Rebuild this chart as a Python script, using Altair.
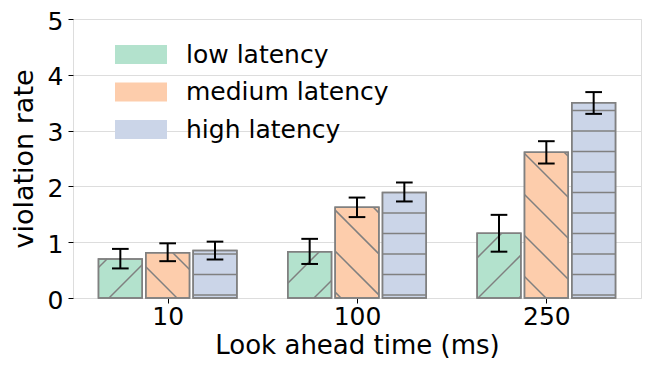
import altair as alt
import pandas as pd

# ---- data ----
groups = ["10", "100", "250"]
series = ["low latency", "medium latency", "high latency"]
colors = ["#b3e2cd", "#fdcdac", "#cbd5e8"]
values = {
    "low latency": [0.70, 0.83, 1.16],
    "medium latency": [0.81, 1.625, 2.61],
    "high latency": [0.85, 1.89, 3.50],
}
err_lo = {
    "low latency": [0.53, 0.61, 0.83],
    "medium latency": [0.66, 1.45, 2.41],
    "high latency": [0.69, 1.73, 3.30],
}
err_hi = {
    "low latency": [0.88, 1.06, 1.49],
    "medium latency": [0.98, 1.80, 2.81],
    "high latency": [1.01, 2.07, 3.69],
}

# ---- layout ----
W, H = 568, 279
XMIN, XMAX = -0.5, 2.5
YMIN, YMAX = 0, 5
kx = W / (XMAX - XMIN)
ky = H / (YMAX - YMIN)
offsets = [-0.25, 0.0, 0.25]
bw = 0.231
cap = 0.044
EDGE = "#808080"
FONT = "DejaVu Sans"

rows = []
for si, s in enumerate(series):
    for gi, g in enumerate(groups):
        c = gi + offsets[si]
        rows.append(dict(series=s, group=g, xc=c, x0=c - bw / 2, x1=c + bw / 2,
                         v=values[s][gi], lo=err_lo[s][gi], hi=err_hi[s][gi],
                         cl=c - cap, cr=c + cap))
df = pd.DataFrame(rows)

# hatch segments (pixel-space pattern, converted to data units)
def to_data(xp, yp):
    return xp / kx + XMIN, YMAX - yp / ky

segs = []
for r in rows:
    xl = (r["x0"] - XMIN) * kx
    xr = (r["x1"] - XMIN) * kx
    yt = (YMAX - r["v"]) * ky
    yb = H
    if r["series"] == "low latency":
        sp, ph = 41.0, 684.0
        k0 = int((xl + yt - ph) // sp) - 1
        k1 = int((xr + yb - ph) // sp) + 2
        for k in range(k0, k1):
            cc = ph + k * sp
            a = max(xl, cc - yb)
            b = min(xr, cc - yt)
            if b - a > 0.5:
                x1d, y1d = to_data(a, cc - a)
                x2d, y2d = to_data(b, cc - b)
                segs.append(dict(x=x1d, y=y1d, x2=x2d, y2=y2d))
    elif r["series"] == "medium latency":
        sp, ph = 41.0, -317.0
        k0 = int((yt - xr - ph) // sp) - 1
        k1 = int((yb - xl - ph) // sp) + 2
        for k in range(k0, k1):
            d = ph + k * sp
            a = max(xl, yt - d)
            b = min(xr, yb - d)
            if b - a > 0.5:
                x1d, y1d = to_data(a, a + d)
                x2d, y2d = to_data(b, b + d)
                segs.append(dict(x=x1d, y=y1d, x2=x2d, y2=y2d))
    else:
        sp, ph = 20.5, 276.0
        k = 0
        while True:
            yp = ph - k * sp
            if yp <= yt + 0.5:
                break
            x1d, y1d = to_data(xl, yp)
            x2d, _ = to_data(xr, yp)
            segs.append(dict(x=x1d, y=y1d, x2=x2d, y2=y1d))
            k += 1
hatch = pd.DataFrame(segs)

xscale = alt.Scale(domain=[XMIN, XMAX], nice=False, zero=False)
yscale = alt.Scale(domain=[YMIN, YMAX], nice=False)

xaxis = alt.Axis(values=[0, 1, 2], title="Look ahead time (ms)", grid=False,
                 labelExpr="datum.value == 0 ? '10' : datum.value == 1 ? '100' : '250'",
                 labelFontSize=25, titleFontSize=26, tickSize=5, labelPadding=1,
                 titlePadding=3, domain=False, tickColor="black", labelColor="black",
                 titleColor="black", labelFont=FONT, titleFont=FONT, titleFontWeight="normal")
yaxis = alt.Axis(values=[0, 1, 2, 3, 4, 5], format="d", title="violation rate", grid=True,
                 gridColor="#dddddd", gridWidth=1, labelFontSize=25, titleFontSize=27,
                 tickSize=5, labelPadding=5, titlePadding=9, domain=False, labelOffset=2,
                 tickColor="black", labelColor="black", titleColor="black",
                 labelFont=FONT, titleFont=FONT, titleFontWeight="normal")

base = alt.Chart(df)

bar_layers = []
for si, s in enumerate(series):
    enc = dict(x=alt.X("x0:Q", scale=xscale), x2="x1:Q",
               y=alt.Y("v:Q", scale=yscale), y2=alt.datum(0))
    if si == 0:
        enc["x"] = alt.X("x0:Q", scale=xscale, axis=xaxis)
        enc["y"] = alt.Y("v:Q", scale=yscale, axis=yaxis)
    bar_layers.append(
        base.transform_filter(alt.datum.series == s)
        .mark_bar(fill=colors[si], stroke=EDGE, strokeWidth=1.5)
        .encode(**enc)
    )

hatch_layer = alt.Chart(hatch).mark_rule(color=EDGE, strokeWidth=1.5).encode(
    x=alt.X("x:Q", scale=xscale), x2="x2:Q",
    y=alt.Y("y:Q", scale=yscale), y2="y2:Q",
)

outline = base.mark_bar(fillOpacity=0, stroke=EDGE, strokeWidth=1.5).encode(
    x=alt.X("x0:Q", scale=xscale), x2="x1:Q",
    y=alt.Y("v:Q", scale=yscale), y2=alt.datum(0),
)

ebar = base.mark_rule(color="black", strokeWidth=2).encode(
    x=alt.X("xc:Q", scale=xscale), y=alt.Y("lo:Q", scale=yscale), y2="hi:Q")
cap_lo = base.mark_rule(color="black", strokeWidth=2).encode(
    x=alt.X("cl:Q", scale=xscale), x2="cr:Q", y=alt.Y("lo:Q", scale=yscale))
cap_hi = base.mark_rule(color="black", strokeWidth=2).encode(
    x=alt.X("cl:Q", scale=xscale), x2="cr:Q", y=alt.Y("hi:Q", scale=yscale))

shapes = [
    "M-1,-0.365H1V0.365H-1Z M0.06,0.365L0.8,-0.365",
    "M-1,-0.365H1V0.365H-1Z M-0.45,-0.365L0.15,0.365",
    "M-1,-0.365H1V0.365H-1Z M-1,0.05H1",
]
legend = alt.Legend(
    title=None, orient="none", legendX=41, legendY=23,
    symbolSize=2704, rowPadding=11.5, padding=0, clipHeight=25,
    labelFontSize=25, labelFont=FONT, labelColor="black", labelOffset=18,
    symbolStrokeColor=EDGE, symbolStrokeWidth=1.5, symbolOpacity=1, labelLimit=400,
)
legend_layer = base.mark_point(filled=False, size=0, opacity=1, stroke=EDGE,
                               strokeWidth=1.5, fillOpacity=1).encode(
    x=alt.X("xc:Q", scale=xscale), y=alt.Y("v:Q", scale=yscale),
    fill=alt.Fill("series:N", scale=alt.Scale(domain=series, range=colors),
                  sort=series, legend=legend),
    shape=alt.Shape("series:N", scale=alt.Scale(domain=series, range=shapes),
                    sort=series, legend=legend),
)

chart = alt.layer(*bar_layers, hatch_layer, outline, ebar, cap_lo, cap_hi, legend_layer).properties(
    width=W, height=H,
    autosize=alt.AutoSizeParams(type="none"),
    padding={"left": 65, "top": 11, "right": 1, "bottom": 60},
).configure_view(stroke="black", strokeWidth=1).configure(background="white")

chart.save("out.html", embed_options={"renderer": "svg", "actions": False})
